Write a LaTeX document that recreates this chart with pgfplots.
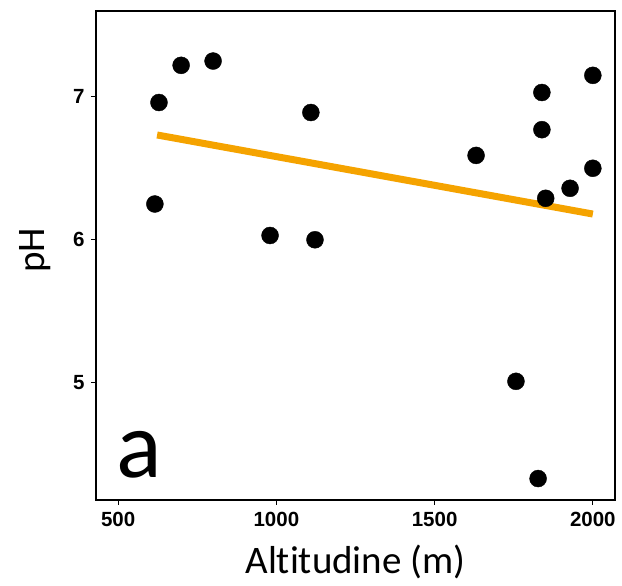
\documentclass[border=0pt]{standalone}
\usepackage{fontspec}
\setmainfont{Carlito}[Ligatures=NoCommon]
\newfontfamily\tickfont{Liberation Sans}
\usepackage{pgfplots}
\pgfplotsset{compat=1.18}
\definecolor{lineorange}{RGB}{245,163,0}
\begin{document}
\begin{tikzpicture}
\begin{axis}[
  scale only axis,
  width=519pt, height=489pt,
  xmin=430, xmax=2070, ymin=4.18, ymax=7.60,
  xtick={500,1000,1500,2000}, ytick={5,6,7},
  tick align=outside, tick pos=left,
  major tick length=5pt,
  every tick/.style={black, line width=1.2pt},
  axis line style={line width=1.8pt},
  /pgf/number format/assume math mode=true,
  /pgf/number format/1000 sep={},
  ticklabel style={font=\tickfont\bfseries\fontsize{20.5}{20.5}\selectfont},
  xticklabel style={yshift=-4pt},
  yticklabel style={xshift=-3pt},
  xlabel={Altitudine (m)},
  ylabel={pH},
  label style={font=\fontsize{39}{39}\selectfont},
  xlabel style={at={(axis description cs:0.5,-0.150)}, anchor=base},
  ylabel style={at={(axis description cs:-0.1175,0.511)}, anchor=center, rotate=0},
]
\addplot[only marks, mark=*, mark size=8.5pt, mark options={fill=black, draw=black}] coordinates {
(616,6.25) (629,6.96) (699,7.22) (800,7.25) (980,6.03) (1109,6.89)
(1122,6.00) (1631,6.59) (1757,5.01) (1839,7.03) (1839,6.77) (1851,6.29)
(1827,4.33) (1928,6.36) (2000,7.15) (2000,6.50)
};
\addplot[lineorange, line width=7pt, no marks] coordinates {(623,6.733) (2000,6.18)};
\node[anchor=base west, inner sep=0pt, font=\fontsize{95}{95}\selectfont] at (rel axis cs:0.0385,0.045) {a};
\end{axis}
\pgfresetboundingbox
\path ([shift={(-96pt,-86pt)}]current axis.south west) rectangle ([shift={(7pt,11pt)}]current axis.north east);
\end{tikzpicture}
\end{document}
